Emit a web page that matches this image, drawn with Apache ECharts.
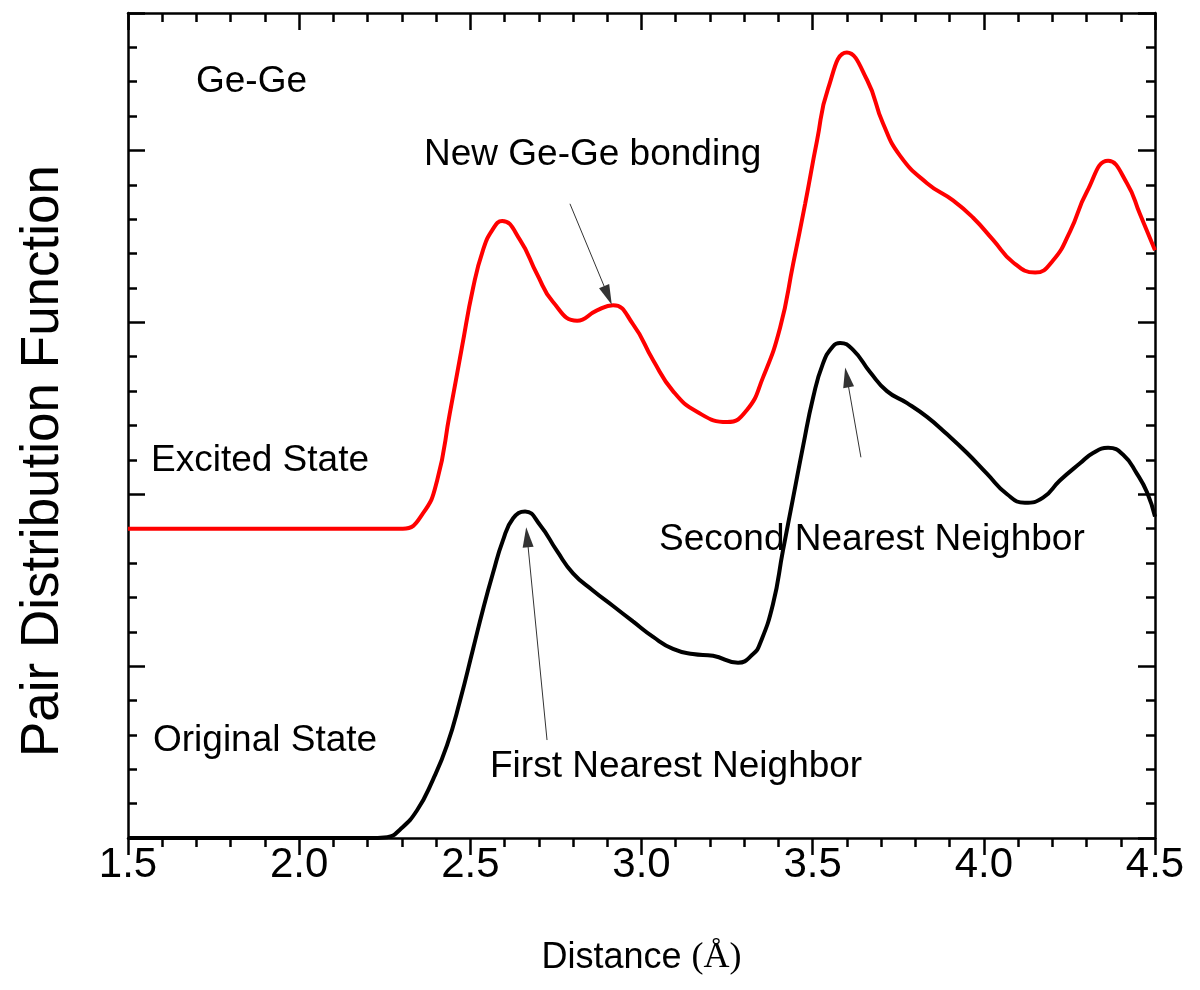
<!DOCTYPE html>
<html>
<head>
<meta charset="utf-8">
<script src="https://cdn.jsdelivr.net/npm/echarts@6/dist/echarts.min.js"></script>
<style>
  html, body { margin: 0; padding: 0; background: #fff; }
  #chart { width: 1200px; height: 990px; }
</style>
</head>
<body>
<div id="chart"></div>
<script>
    // original state (black)
    var originalX = [1.5, 2.2, 2.257, 2.295, 2.344, 2.391, 2.432, 2.470, 2.508, 2.537, 2.566, 2.595, 2.625, 2.660,
        2.704, 2.753, 2.800, 2.858, 2.917, 2.975, 3.034, 3.092, 3.150, 3.209, 3.282, 3.326,
        3.346, 3.384, 3.413, 3.443, 3.472, 3.501, 3.530, 3.559, 3.580, 3.618, 3.668, 3.717, 3.776, 3.834,
        3.892, 3.951, 4.009, 4.068, 4.120, 4.173, 4.222, 4.281, 4.319, 4.363, 4.407, 4.447, 4.477, 4.500];
    var originalY = [0, 0, 0.005, 0.05, 0.16, 0.34, 0.54, 0.80, 1.10, 1.33, 1.54, 1.73, 1.86, 1.90,
        1.82, 1.67, 1.54, 1.44, 1.35, 1.26, 1.17, 1.10, 1.07, 1.06, 1.02, 1.07,
        1.13, 1.36, 1.67, 1.98, 2.28, 2.56, 2.76, 2.86, 2.88, 2.84, 2.71, 2.60, 2.53, 2.45,
        2.35, 2.24, 2.12, 2.00, 1.95, 1.98, 2.08, 2.18, 2.24, 2.27, 2.23, 2.12, 2.01, 1.87];

    // excited state (red)
    var excitedX = [1.5, 2.2, 2.303, 2.362, 2.403, 2.440, 2.475, 2.508, 2.537, 2.565, 2.593, 2.645, 2.695, 2.741,
        2.812, 2.870, 2.917, 2.975, 3.034, 3.092, 3.162, 3.250, 3.308, 3.355, 3.405,
        3.443, 3.478, 3.513, 3.545, 3.600, 3.659, 3.705, 3.755, 3.834, 3.910, 3.968, 4.027, 4.085,
        4.150, 4.202, 4.252, 4.301, 4.363, 4.418, 4.456, 4.500];
    var excitedY = [1.80, 1.80, 1.80, 1.89, 2.08, 2.47, 2.85, 3.20, 3.42, 3.54, 3.59, 3.48, 3.28, 3.12,
        3.01, 3.07, 3.10, 2.99, 2.78, 2.60, 2.48, 2.42, 2.49, 2.68, 2.97,
        3.34, 3.69, 4.06, 4.36, 4.57, 4.41, 4.16, 3.97, 3.81, 3.71, 3.61, 3.48, 3.35,
        3.29, 3.36, 3.53, 3.76, 3.94, 3.81, 3.63, 3.42];

    // annotation arrows: [from, to] in data units
    var arrows = [
        [[2.791, 3.69], [2.902, 3.157]],
        [[2.724, 0.57], [2.666, 1.75]],
        [[3.641, 2.215], [3.600, 2.68]]
    ];

    var xTickLabels = ['1.5', '2.0', '2.5', '3.0', '3.5', '4.0', '4.5'];

    var chart = echarts.init(document.getElementById('chart'));

    function zip(xs, ys) {
        return xs.map(function (x, i) { return [x, ys[i]]; });
    }

    var font = 'Liberation Sans, Arial, sans-serif';
    var axisLine = { show: true, onZero: false, lineStyle: { color: '#000', width: 2.5 } };

    function xAxisOf(pos, inside, labels) {
        return {
            type: 'value', position: pos, min: 1.5, max: 4.5, interval: 0.5,
            axisLine: axisLine,
            axisTick: { show: true, inside: inside, length: 17, lineStyle: { color: '#000', width: 2.5 } },
            minorTick: { show: true, splitNumber: 5, length: 9, lineStyle: { color: '#000', width: 2.5 } },
            splitLine: { show: false },
            axisLabel: {
                show: labels, color: '#000', fontSize: 42, fontFamily: font, margin: 6,
                formatter: function (v) {
                    var i = Math.round((v - 1.5) / 0.5);
                    return xTickLabels[i] || '';
                }
            }
        };
    }

    function yAxisOf(pos, interval, len, showLine) {
        return {
            type: 'value', position: pos, min: 0, max: 4.8, interval: interval,
            axisLine: showLine ? axisLine : { show: false, onZero: false },
            axisTick: { show: true, inside: true, length: len, lineStyle: { color: '#000', width: 2.5 } },
            splitLine: { show: false },
            axisLabel: { show: false }
        };
    }

    var bottomAxis = xAxisOf('bottom', false, true);
    bottomAxis.name = 'Distance {s|(Å)}';
    bottomAxis.nameLocation = 'middle';
    bottomAxis.nameGap = 102;
    bottomAxis.nameTextStyle = {
        color: '#000', fontSize: 36, fontFamily: font,
        rich: { s: { fontSize: 36, fontFamily: 'Liberation Serif, Times New Roman, serif', color: '#000' } }
    };

    var note = function (txt, x, y) {
        return {
            type: 'text', x: x, y: y, silent: true,
            style: { text: txt, font: '37px ' + font, fill: '#000', textVerticalAlign: 'middle' }
        };
    };

    var option = {
        animation: false,
        backgroundColor: '#fff',
        grid: { left: 128, right: 45, top: 13, bottom: 152 },
        xAxis: [bottomAxis, xAxisOf('top', true, false)],
        yAxis: [
            yAxisOf('left', 1, 17, true),
            yAxisOf('left', 0.2, 9, false),
            yAxisOf('right', 1, 17, true),
            yAxisOf('right', 0.2, 9, false)
        ],
        graphic: [
            {
                type: 'text', x: 43, y: 461, rotation: Math.PI / 2, silent: true,
                style: {
                    text: 'Pair Distribution Function', font: '53px ' + font, fill: '#000',
                    textAlign: 'center', textVerticalAlign: 'middle'
                }
            },
            note('Ge-Ge', 196, 82),
            note('New Ge-Ge bonding', 424, 155),
            note('Excited State', 151, 461),
            note('Original State', 153, 741),
            note('Second Nearest Neighbor', 659, 540),
            note('First Nearest Neighbor', 490, 767)
        ],
        series: [
            {
                name: 'Original State',
                type: 'line',
                xAxisIndex: 0, yAxisIndex: 0,
                data: zip(originalX, originalY),
                smooth: 0.5,
                showSymbol: false,
                lineStyle: { color: '#000', width: 4 },
                z: 3,
                markLine: {
                    silent: true,
                    symbol: ['none', 'triangle'],
                    symbolSize: [11, 20],
                    label: { show: false },
                    lineStyle: { color: '#333', width: 1, type: 'solid' },
                    data: arrows.map(function (a) {
                        return [{ coord: a[0] }, { coord: a[1] }];
                    })
                }
            },
            {
                name: 'Excited State',
                type: 'line',
                xAxisIndex: 0, yAxisIndex: 0,
                data: zip(excitedX, excitedY),
                smooth: 0.5,
                showSymbol: false,
                lineStyle: { color: '#ff0000', width: 4 },
                z: 3
            }
        ]
    };
    chart.setOption(option);
</script>
</body>
</html>
